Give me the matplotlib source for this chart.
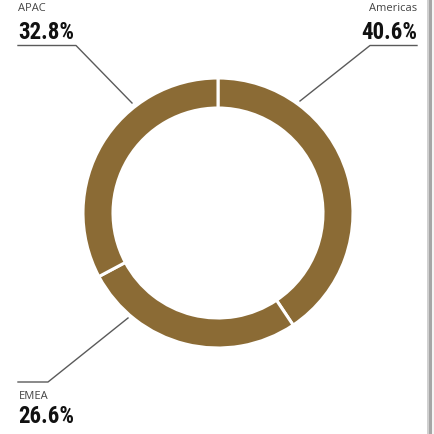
import matplotlib
matplotlib.use("Agg")
import matplotlib.pyplot as plt
from matplotlib.patches import Rectangle
from matplotlib import font_manager

regions = ["Americas", "EMEA", "APAC"]
shares = [40.6, 26.6, 32.8]
color = "#8b6b35"

avail = {f.name for f in font_manager.fontManager.ttflist}
val_font = "Open Sans"
val_size = 14.5
for cand, size in [("Liberation Sans Narrow", 17), ("Roboto Condensed", 16.5)]:
    if cand in avail:
        val_font, val_size = cand, size
        break

W, H = 435, 434
fig = plt.figure(figsize=(W / 100, H / 100), dpi=100)
ax = fig.add_axes([0, 0, 1, 1])
ax.set_xlim(0, W)
ax.set_ylim(0, H)
ax.set_aspect("equal")
ax.axis("off")

cx, cy = 218, H - 213
ax.pie(shares, startangle=90, counterclock=False, center=(cx, cy), radius=135,
       colors=[color] * 3,
       wedgeprops=dict(width=30, edgecolor="white", linewidth=2.2))
ax.set_xlim(0, W)
ax.set_ylim(0, H)

line_kw = dict(color="#5a5a5a", lw=1.0)
ax.plot([18, 76, 132], [H - 45.5, H - 45.5, H - 103], **line_kw)
ax.plot([417, 370, 300], [H - 45.5, H - 45.5, H - 101], **line_kw)
ax.plot([18, 48, 128], [H - 382, H - 382, H - 318], **line_kw)

lab_kw = dict(fontsize=8, color="#444444", family="Open Sans")
val_kw = dict(fontsize=val_size, color="#111111", family=val_font, fontweight="bold")

ax.text(18.5, H - 10.5, regions[2], ha="left", va="baseline", **lab_kw)
ax.text(18.5, H - 38.5, f"{shares[2]}%", ha="left", va="baseline", **val_kw)
ax.text(417, H - 10.5, regions[0], ha="right", va="baseline", **lab_kw)
ax.text(417, H - 38.5, f"{shares[0]}%", ha="right", va="baseline", **val_kw)
ax.text(18.5, H - 399.5, regions[1], ha="left", va="baseline", **lab_kw)
ax.text(18.5, H - 423, f"{shares[1]}%", ha="left", va="baseline", **val_kw)

ax.add_patch(Rectangle((427, 0), 2, H, color="#d0d0d0", lw=0))
ax.add_patch(Rectangle((429, 0), 3, H, color="#a6a6a6", lw=0))
ax.add_patch(Rectangle((432, 0), 3, H, color="#f4f4f4", lw=0))

fig.savefig("out.png", dpi=100)
